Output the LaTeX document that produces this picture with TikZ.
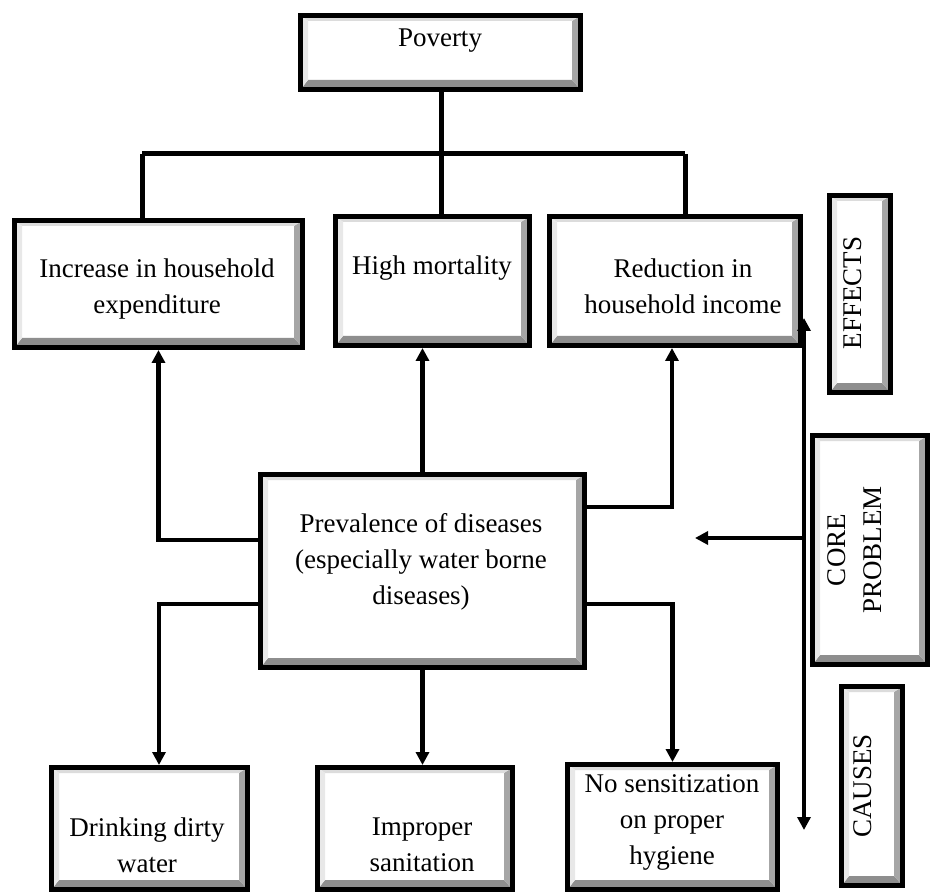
\documentclass[tikz,border=0pt]{standalone}
\usepackage{fontspec}
\setmainfont{Liberation Serif}
\usetikzlibrary{arrows.meta,calc}

\definecolor{bevdark}{HTML}{8E8E8E}
\definecolor{bevmid}{HTML}{A6A6A6}
\definecolor{bevlight}{HTML}{DCDCDC}
\definecolor{bevpale}{HTML}{E8E8E8}

\begin{document}
\begin{tikzpicture}[x=1pt,y=-1pt,
  bevelbox/.style={rectangle, draw=black, line width=5pt, fill=white, inner sep=0pt,
    path picture={
      \path (path picture bounding box.south west) coordinate (bvS)
            (path picture bounding box.north east) coordinate (bvN)
            (bvS -| bvN) coordinate (bvE)
            (bvS |- bvN) coordinate (bvW);
      % bottom face
      \fill[bevdark] (bvS) -- (bvE) -- ($(bvE)+(-8.5pt,9.5pt)$) -- ($(bvS)+(7.5pt,9.5pt)$) -- cycle;
      % right face
      \fill[bevmid] (bvE) -- (bvN) -- ($(bvN)+(-8.5pt,-5.5pt)$) -- ($(bvE)+(-8.5pt,9.5pt)$) -- cycle;
      % top face
      \fill[bevlight] (bvW) -- (bvN) -- ($(bvN)+(-8.5pt,-5.5pt)$) -- ($(bvW)+(7.5pt,-5.5pt)$) -- cycle;
      % left face
      \fill[bevpale] (bvS) -- (bvW) -- ($(bvW)+(7.5pt,-5.5pt)$) -- ($(bvS)+(7.5pt,9.5pt)$) -- cycle;
    }},
  txt/.style={font=\fontsize{27}{36}\selectfont, align=center, inner sep=0pt},
  conn/.style={line width=5pt},
  arr/.style={line width=4.5pt, -{Triangle[width=13pt,length=13pt]}}
]
\fill[white] (0,0) rectangle (932,893);
\useasboundingbox (0,0) rectangle (932,893);

% boxes
\node[bevelbox, minimum width=280pt, minimum height=74pt]  (pov)    at (440.5,52.5) {};
\node[bevelbox, minimum width=288pt, minimum height=127pt] (inc)    at (158.5,284)  {};
\node[bevelbox, minimum width=194pt, minimum height=129pt] (mort)   at (432.5,281)  {};
\node[bevelbox, minimum width=251pt, minimum height=129pt] (red)    at (675,281)    {};
\node[bevelbox, minimum width=61pt,  minimum height=197pt] (eff)    at (860,294)    {};
\node[bevelbox, minimum width=324pt, minimum height=193pt] (prev)   at (422.5,571)  {};
\node[bevelbox, minimum width=115pt, minimum height=229pt] (core)   at (870,550)    {};
\node[bevelbox, minimum width=196pt, minimum height=122pt] (drink)  at (149.5,828.5){};
\node[bevelbox, minimum width=195pt, minimum height=122pt] (impr)   at (415,828.5)  {};
\node[bevelbox, minimum width=210pt, minimum height=125pt] (sens)   at (672.5,827)  {};
\node[bevelbox, minimum width=61pt,  minimum height=199pt] (causes) at (872,786)    {};

% labels
\node[txt] (povT)    at (440,41)  {Poverty};
\node[txt] (incT)    at (157,289) {Increase in household\\expenditure};
\node[txt] (mortT)   at (432,268) {High mortality};
\node[txt] (redT)    at (683,286) {Reduction in\\household income};
\node[txt, rotate=90] (effT) at (853,293) {EFFECTS};
\node[txt] (prevT)   at (421,562) {Prevalence of diseases\\(especially water borne\\diseases)};
\node[txt, rotate=90] (coreT) at (855,550) {CORE\\PROBLEM};
\node[txt] (drinkT)  at (147,845) {Drinking dirty\\water};
\node[txt] (imprT)   at (422,845) {Improper\\sanitation};
\node[txt] (sensT)   at (672,822) {No sensitization\\on proper\\hygiene};
\node[txt, rotate=90] (causesT) at (863,786) {CAUSES};

% poverty tree
\coordinate (busL) at (142,154);
\coordinate (busR) at (685,154);
\draw[conn] (busL) -- (busR);
\draw[conn] (pov.south -| 441,0) -- (mort.north -| 441,0);
\draw[conn] (busL) -- (busL |- inc.north);
\draw[conn] (busR) -- (busR |- red.north);

% effects of the core problem
\draw[arr] ([yshift=31pt]prev.west) -| (inc.south);
\draw[arr] (prev.north) -- (prev.north |- mort.south);
\draw[arr] ([yshift=64pt]prev.east) -| ([xshift=-3pt]red.south);

% causes of the core problem
\draw[arr] ([yshift=-33pt]prev.west) -| ([xshift=9.5pt]drink.north);
\draw[arr] (prev.south) -- (prev.south |- impr.north);
\draw[arr] ([yshift=-33pt]prev.east) -| (sens.north);

% side axis
\coordinate (vtop)  at (804,318);
\coordinate (vbot)  at (804,830);
\coordinate (vmid)  at (804,538);
\coordinate (vleft) at (695,538);
\draw[arr] (vmid) -- (vtop);
\draw[arr] (vmid) -- (vbot);
\draw[arr] (vmid) -- (vleft);
\end{tikzpicture}
\end{document}
